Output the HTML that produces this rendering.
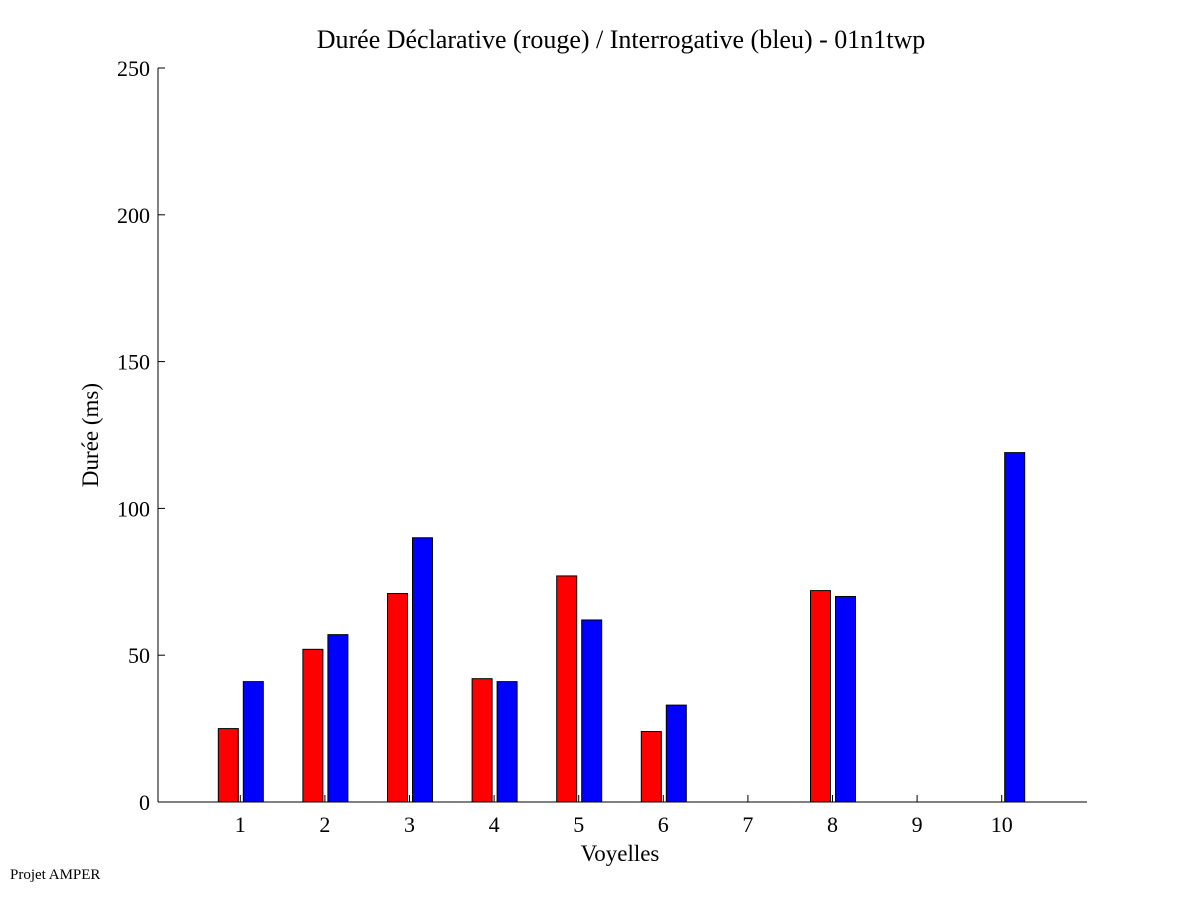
<!DOCTYPE html>
<html><head><meta charset="utf-8"><style>
body{margin:0;background:#fff;}
svg text{font-family:"Liberation Serif",serif;fill:#000;}
</style></head><body>
<svg id="chart" width="1201" height="901" xmlns="http://www.w3.org/2000/svg">
<rect width="1201" height="901" fill="#fff"/>
<text x="621" y="48" font-size="26" text-anchor="middle">Durée Déclarative (rouge) / Interrogative (bleu) - 01n1twp</text>
<text x="98" y="435" font-size="23" text-anchor="middle" transform="rotate(-90 98 435)">Durée (ms)</text>
<text x="620" y="861" font-size="23" text-anchor="middle">Voyelles</text>
<text x="10" y="879" font-size="15">Projet AMPER</text>
<g id="marks"></g>
<line x1="158" y1="68" x2="158" y2="802" stroke="#000" stroke-width="1"/>
<line x1="158" y1="802" x2="1087" y2="802" stroke="#000" stroke-width="1"/>
</svg>
<script>
const categories=[1,2,3,4,5,6,7,8,9,10];
const redValues=[25,52,71,42,77,24,0,72,0,0];
const blueValues=[41,57,90,41,62,33,0,70,0,119];
const yTicks=[0,50,100,150,200,250];
const ns="http://www.w3.org/2000/svg";
const g=document.getElementById('marks');
function xs(v){return 240.3+(v-1)*84.6;}
function ys(v){return 802-v*(734/250);}
function mk(t,a){const e=document.createElementNS(ns,t);for(const k in a)e.setAttribute(k,a[k]);g.appendChild(e);return e;}
yTicks.forEach(t=>{
  const l=mk('line',{x1:158,x2:165,y1:ys(t),y2:ys(t),stroke:'#000'});
  
  
  const tx=mk('text',{x:150,y:ys(t)+8,'font-size':22,'text-anchor':'end'});
  tx.textContent=t;
  
  
});
categories.forEach((c,i)=>{
  const l=mk('line',{x1:xs(c),x2:xs(c),y1:802,y2:795,stroke:'#000'});
  
  
  const tx=mk('text',{x:xs(c),y:832,'font-size':22,'text-anchor':'middle'});
  tx.textContent=c;
  
  
  if(redValues[i]>0){
    const r=mk('rect',{x:xs(c)-22,y:ys(redValues[i]),width:20,height:802-ys(redValues[i]),fill:'#ff0000',stroke:'#000','stroke-width':1});
    
    
  }
  if(blueValues[i]>0){
    const b=mk('rect',{x:xs(c)+3,y:ys(blueValues[i]),width:20,height:802-ys(blueValues[i]),fill:'#0000ff',stroke:'#000','stroke-width':1});
    
    
  }
});
</script>
</body></html>
